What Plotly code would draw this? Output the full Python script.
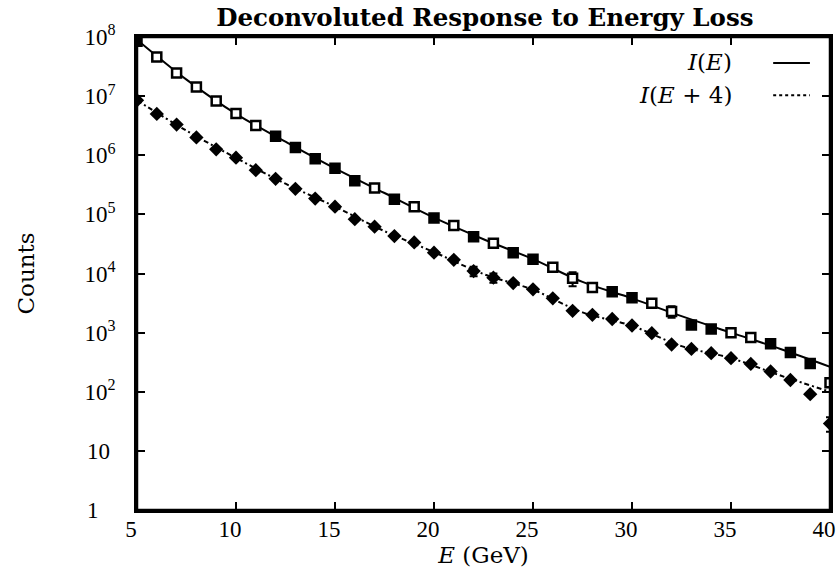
import plotly.graph_objects as go

# ---- data ----
energy = list(range(5, 41))  # GeV
counts_I_E = [8.5e7, 4.6e7, 2.45e7, 1.42e7, 8.3e6, 5.1e6, 3.2e6, 2.1e6, 1.35e6, 8.7e5,
              6.0e5, 3.7e5, 2.8e5, 1.8e5, 1.35e5, 8.7e4, 6.5e4, 4.2e4, 3.25e4, 2.25e4,
              1.74e4, 1.28e4, 8.3e3, 5.8e3, 4.9e3, 3.9e3, 3.15e3, 2.28e3, 1.35e3, 1.15e3,
              1.0e3, 8.3e2, 6.5e2, 4.6e2, 3.0e2, 1.42e2]
err_I_E = [0, 0, 0, 0, 0, 0, 0, 0, 0, 0,
           0, 0, 0, 0, 0, 0, 0, 0, 0, 0,
           0, 0, 2200, 0, 0, 0, 500, 500, 0, 0,
           0, 0, 0, 0, 0, 0]
counts_I_E4 = [8.5e6, 5.0e6, 3.3e6, 2.0e6, 1.26e6, 9.1e5, 5.6e5, 4.0e5, 2.7e5, 1.85e5,
               1.35e5, 8.3e4, 6.2e4, 4.3e4, 3.35e4, 2.25e4, 1.7e4, 1.1e4, 8.5e3, 6.9e3,
               5.4e3, 3.8e3, 2.34e3, 2.0e3, 1.7e3, 1.32e3, 9.8e2, 6.3e2, 5.3e2, 4.5e2,
               3.7e2, 2.95e2, 2.2e2, 1.58e2, 91, 29]
err_I_E4 = [0, 0, 0, 0, 0, 0, 0, 0, 0, 0,
            0, 0, 0, 0, 0, 0, 0, 2000, 1500, 0,
            0, 0, 0, 0, 0, 0, 0, 0, 0, 0,
            0, 0, 0, 0, 0, 8]
# open (True) / filled (False) square markers as printed
square_open = [False, True, True, True, True, True, True, False, False, False,
               False, False, True, False, True, False, True, False, True, False,
               False, True, True, True, False, False, True, True, False, False,
               True, True, False, False, False, True]

# fitted curves
energy_fit = [5, 7.5, 10, 12.5, 15, 17.5, 20, 22.5, 25, 27.5, 30, 32.5, 35, 37.5, 40]
fit_I_E = [9.0e7, 1.9e7, 5.0e6, 1.7e6, 6.0e5, 2.3e5, 8.8e4, 3.8e4, 1.75e4, 7.2e3,
           3.8e3, 1.9e3, 1.0e3, 5.3e2, 2.65e2]
fit_I_E4 = [8.5e6, 2.6e6, 9.0e5, 3.3e5, 1.35e5, 5.2e4, 2.3e4, 9.8e3, 5.3e3, 2.2e3,
            1.3e3, 5.9e2, 3.7e2, 1.88e2, 1.0e2]

x_ticks = [5, 10, 15, 20, 25, 30, 35, 40]
x_ticktext = ["5", "10", "15", "20", "25", "30", "35", "40"]
y_ticks = [1, 10, 1e2, 1e3, 1e4, 1e5, 1e6, 1e7, 1e8]
y_ticktext = ["1\u00a0\u00a0\u00a0", "10\u00a0", "10<sup>2</sup>", "10<sup>3</sup>",
              "10<sup>4</sup>", "10<sup>5</sup>", "10<sup>6</sup>", "10<sup>7</sup>",
              "10<sup>8</sup>"]

TICKFONT = "Liberation Serif"
TEXTFONT = "DejaVu Serif"
fig = go.Figure()

fig.add_trace(go.Scatter(x=energy_fit, y=fit_I_E, mode="lines", line_shape="spline",
                         line=dict(color="black", width=2), showlegend=False,
                         hoverinfo="skip"))
fig.add_trace(go.Scatter(x=energy_fit, y=fit_I_E4, mode="lines", line_shape="spline",
                         line=dict(color="black", width=2, dash="5px,3px,2px,3px"),
                         showlegend=False, hoverinfo="skip"))

fig.add_trace(go.Scatter(
    x=energy, y=counts_I_E, mode="markers", showlegend=False,
    error_y=dict(type="data", array=err_I_E, color="black", thickness=2, width=4),
    marker=dict(symbol="square", size=9,
                color=["white" if o else "black" for o in square_open],
                line=dict(color="black", width=2.5))))
fig.add_trace(go.Scatter(
    x=energy, y=counts_I_E4, mode="markers", showlegend=False,
    error_y=dict(type="data", array=err_I_E4, color="black", thickness=2, width=4),
    marker=dict(symbol="diamond", size=11, color="black",
                line=dict(color="black", width=0))))

# legend drawn like the original (text, then line sample)
fig.add_annotation(xref="paper", yref="paper", x=0.862, y=0.947, xanchor="right",
                   yanchor="middle", showarrow=False,
                   text="<i>I</i>(<i>E</i>)", font=dict(family=TEXTFONT, size=23, color="black"))
fig.add_annotation(xref="paper", yref="paper", x=0.862, y=0.877, xanchor="right",
                   yanchor="middle", showarrow=False,
                   text="<i>I</i>(<i>E</i> + 4)", font=dict(family=TEXTFONT, size=23, color="black"))
fig.add_shape(type="line", xref="paper", yref="paper", x0=0.918, x1=0.971, y0=0.945, y1=0.945,
              line=dict(color="black", width=2))
fig.add_shape(type="line", xref="paper", yref="paper", x0=0.918, x1=0.971, y0=0.877, y1=0.877,
              line=dict(color="black", width=2, dash="dot"))
# plot frame
fig.add_shape(type="rect", xref="paper", yref="paper", x0=0, x1=1, y0=0, y1=1,
              line=dict(color="black", width=2.5), layer="above")

fig.update_layout(
    width=836, height=575,
    margin=dict(l=137, r=6, t=37, b=65, autoexpand=False),
    paper_bgcolor="white", plot_bgcolor="white",
    font=dict(family=TICKFONT, size=22, color="black"),
    title=dict(text="<b>Deconvoluted Response to Energy Loss</b>", x=0.58, xanchor="center",
               yref="container", y=0.984, yanchor="top",
               font=dict(family=TEXTFONT, size=24.5, color="black")),
)
fig.update_xaxes(range=[5, 40], tickvals=x_ticks, ticktext=x_ticktext,
                 showgrid=False, zeroline=False, automargin=False,
                 showline=True, linecolor="black", linewidth=2.5, mirror="allticks",
                 ticks="inside", ticklen=8, tickwidth=2, tickcolor="black",
                 ticklabelshift=-6, ticklabelstandoff=-3,
                 tickfont=dict(family=TICKFONT, size=23),
                 title=dict(text="<i>E</i> (GeV)", font=dict(family=TEXTFONT, size=23), standoff=0))
fig.update_yaxes(type="log", range=[0, 8], tickvals=y_ticks, ticktext=y_ticktext,
                 showgrid=False, zeroline=False, automargin=False,
                 showline=True, linecolor="black", linewidth=2.5, mirror="allticks",
                 ticks="inside", ticklen=8, tickwidth=2, tickcolor="black",
                 ticklabelstandoff=14,
                 tickfont=dict(family=TICKFONT, size=23),
                 title=dict(text="Counts", font=dict(family=TEXTFONT, size=23), standoff=44))

fig.write_html("out.html", config={"displayModeBar": False},
               post_script="document.documentElement.style.overflow='hidden';document.body.style.margin='0px';document.body.style.overflow='hidden';")
